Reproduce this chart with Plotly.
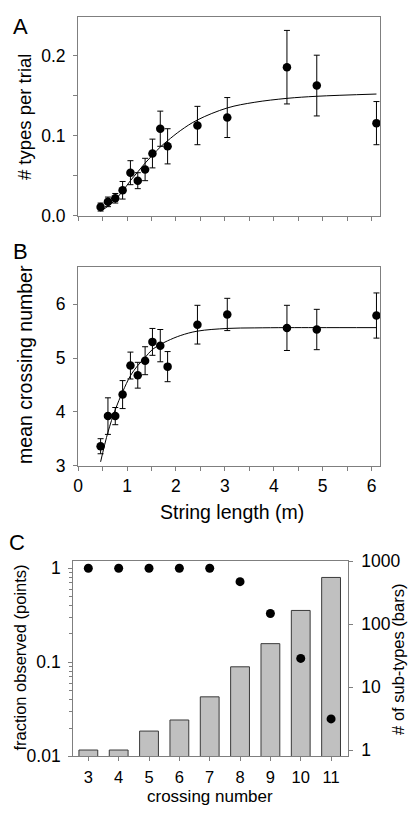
import plotly.graph_objects as go

# Panels A & B data
string_length = [0.46, 0.61, 0.76, 0.91, 1.07, 1.22, 1.37, 1.52, 1.68, 1.83, 2.44, 3.05, 4.27, 4.88, 6.10]
types_per_trial = [0.011, 0.0175, 0.022, 0.032, 0.054, 0.044, 0.058, 0.078, 0.109, 0.087, 0.113, 0.123, 0.186, 0.163, 0.116]
types_err = [0.005, 0.006, 0.006, 0.011, 0.015, 0.010, 0.014, 0.018, 0.022, 0.022, 0.024, 0.025, 0.046, 0.038, 0.027]
mean_crossing = [3.36, 3.92, 3.92, 4.32, 4.86, 4.68, 4.95, 5.30, 5.23, 4.84, 5.62, 5.81, 5.56, 5.53, 5.79]
crossing_err = [0.14, 0.34, 0.16, 0.26, 0.25, 0.24, 0.26, 0.25, 0.30, 0.28, 0.36, 0.30, 0.42, 0.375, 0.42]

# fitted curves
fit_x = [0.46, 0.61, 0.76, 0.91, 1.07, 1.22, 1.37, 1.52, 1.68, 1.83, 2.1, 2.44, 3.05, 3.6, 4.27, 4.88, 6.10]
fit_types = [0.006, 0.012, 0.020, 0.031, 0.044, 0.055, 0.066, 0.076, 0.086, 0.094, 0.107, 0.120, 0.135, 0.142, 0.147, 0.1496, 0.1524]
fit_crossing = [3.07, 3.62, 4.04, 4.37, 4.67, 4.86, 5.01, 5.16, 5.25, 5.32, 5.42, 5.50, 5.55, 5.56, 5.565, 5.565, 5.565]

# Panel C data
crossing_number = [3, 4, 5, 6, 7, 8, 9, 10, 11]
fraction_observed = [1, 1, 1, 1, 1, 0.72, 0.33, 0.11, 0.025]
sub_types = [1, 1, 2, 3, 7, 21, 49, 165, 552]

FONT = "Liberation Sans, Arial, sans-serif"
AX = "#7f7f7f"
W, H = 410, 819

fig = go.Figure()

marker = dict(color="black", size=8.5)
err_style = dict(color="black", thickness=1, width=3)

# Panel A
fig.add_trace(go.Scatter(x=fit_x, y=fit_types, mode="lines", line=dict(color="black", width=1, shape="spline"),
                         xaxis="x", yaxis="y", showlegend=False))
fig.add_trace(go.Scatter(x=string_length, y=types_per_trial, mode="markers", marker=marker,
                         error_y=dict(type="data", array=types_err, **err_style),
                         xaxis="x", yaxis="y", showlegend=False))
# Panel B
fig.add_trace(go.Scatter(x=fit_x, y=fit_crossing, mode="lines", line=dict(color="black", width=1, shape="spline"),
                         xaxis="x2", yaxis="y2", showlegend=False))
fig.add_trace(go.Scatter(x=string_length, y=mean_crossing, mode="markers", marker=marker,
                         error_y=dict(type="data", array=crossing_err, **err_style),
                         xaxis="x2", yaxis="y2", showlegend=False))
# Panel C
fig.add_trace(go.Bar(x=crossing_number, y=sub_types, width=0.62,
                     marker=dict(color="#c0c0c0", line=dict(color="#3a3a3a", width=1)),
                     xaxis="x3", yaxis="y3", showlegend=False))
fig.add_trace(go.Scatter(x=crossing_number, y=fraction_observed, mode="markers", marker=dict(color="black", size=9),
                         xaxis="x3", yaxis="y4", showlegend=False))

def px_x(a, b):
    return [a / W, b / W]

def px_y(top, bottom):
    return [(H - bottom) / H, (H - top) / H]

tickfont = dict(family=FONT, size=17.5, color="black")
common = dict(showline=True, linecolor=AX, linewidth=1, ticks="outside", tickcolor=AX, ticklen=4,
              showgrid=False, zeroline=False, tickfont=tickfont)
minor_lin = lambda d: dict(dtick=d, ticks="outside", ticklen=4, tickcolor=AX, showgrid=False)

fig.update_layout(
    width=W, height=H, margin=dict(l=0, r=0, t=0, b=0),
    paper_bgcolor="white", plot_bgcolor="white",
    font=dict(family=FONT, color="black"),
    xaxis=dict(domain=px_x(74, 380), anchor="y", range=[0, 6.18], tickvals=[0, 1, 2, 3, 4, 5, 6],
               showticklabels=False, mirror=True, minor=minor_lin(0.5), **common),
    yaxis=dict(domain=px_y(7, 211), anchor="x", range=[0, 0.249], tickvals=[0, 0.1, 0.2],
               ticktext=["0.0", "0.1", "0.2"], mirror=True, ticklabelstandoff=4,
               minor=minor_lin(0.05), **common),
    xaxis2=dict(domain=px_x(74, 380), anchor="y2", range=[0, 6.18], tickvals=[0, 1, 2, 3, 4, 5, 6], mirror=True,
                minor=minor_lin(0.5), **common),
    yaxis2=dict(domain=px_y(263, 467), anchor="x2", range=[3, 6.7], tickvals=[3, 4, 5, 6], mirror=True,
                ticklabelstandoff=4, **common),
    xaxis3=dict(domain=px_x(69, 347), anchor="y3", range=[2.5, 11.55], tickvals=crossing_number, mirror=True,
                ticklabelstandoff=2, **{**common, "tickfont": dict(family=FONT, size=16.5, color="black")}),
    yaxis3=dict(domain=px_y(565, 765), anchor="x3", side="right", type="log", range=[-0.1, 3],
                tickvals=[1, 10, 100, 1000], ticktext=["1", "10", "100", "1000"], ticklabelstandoff=5,
                **common),
    yaxis4=dict(overlaying="y3", anchor="x3", side="left", type="log", range=[-2, 0.075],
                tickvals=[0.01, 0.1, 1], ticktext=["0.01", "0.1", "1"], ticklabelstandoff=4,
                minor=dict(tickvals=[0.02, 0.03, 0.04, 0.05, 0.06, 0.07, 0.08, 0.09,
                                     0.2, 0.3, 0.4, 0.5, 0.6, 0.7, 0.8, 0.9],
                           ticks="outside", ticklen=3, tickcolor=AX, showgrid=False),
                **common),
)

def ann(text, x, y, size, angle=0):
    fig.add_annotation(text=text, x=x / W, y=(H - y) / H, xref="paper", yref="paper",
                       showarrow=False, textangle=angle, font=dict(family=FONT, size=size, color="black"),
                       xanchor="center", yanchor="middle", borderpad=0)

ann("A", 16, 17, 22)
ann("B", 16, 248, 22)
ann("C", 12, 546, 22)
ann("# types per trial", 20, 110, 18.5, -90)
ann("mean crossing number", 20, 363, 19.5, -90)
ann("String length (m)", 230, 515, 19.5)
ann("fraction observed (points)", 15, 664, 16.5, -90)
ann("# of sub-types (bars)", 398, 666, 16.5, -90)
ann("crossing number", 208, 806, 17)

fig.write_html(
    "out.html",
    config={"displayModeBar": False},
    post_script="document.body.style.margin='0';document.body.style.overflow='hidden';",
)
